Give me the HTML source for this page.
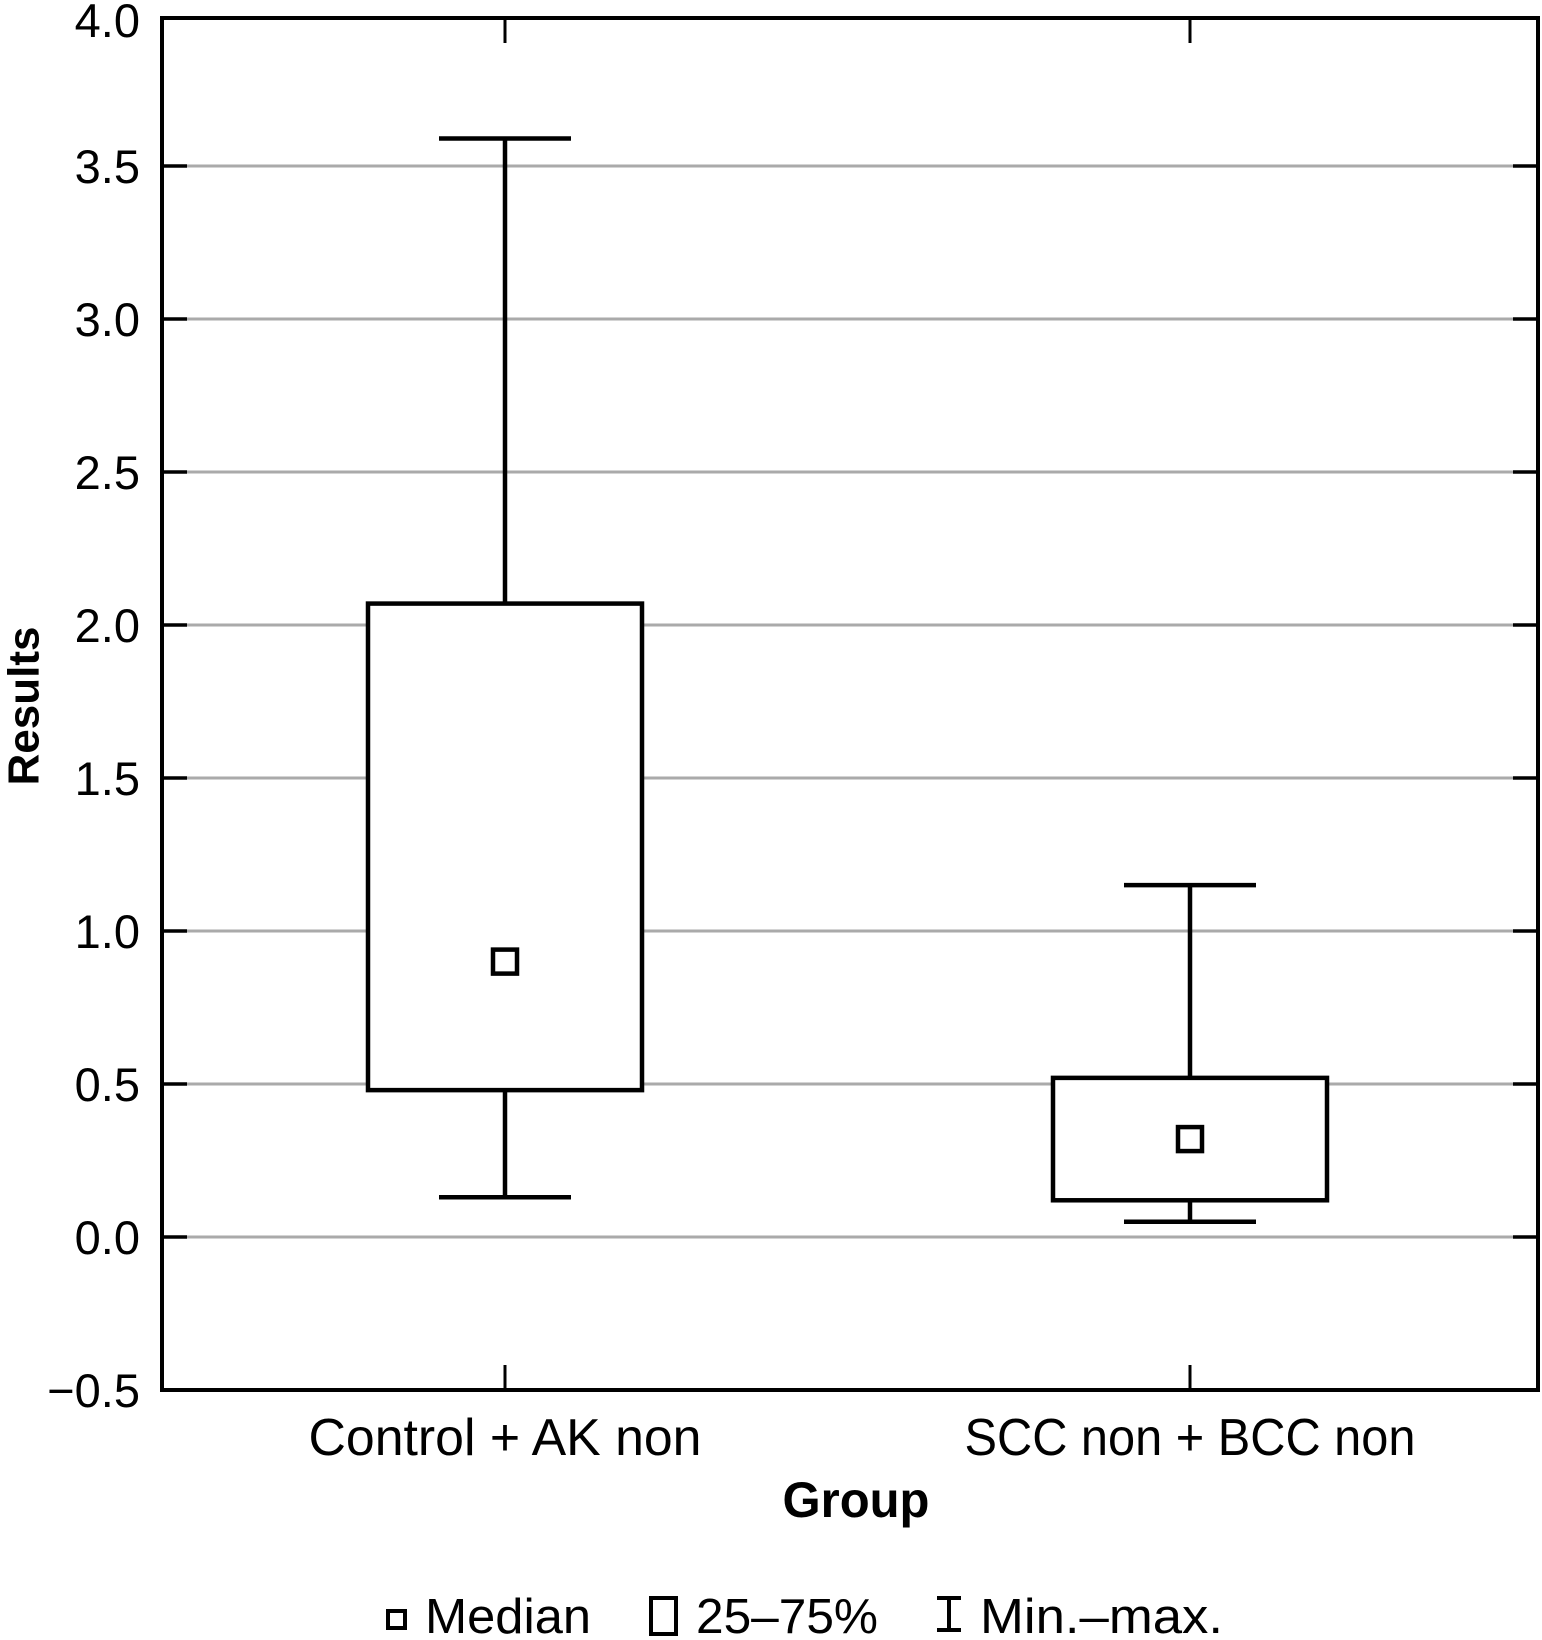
<!DOCTYPE html>
<html><head><meta charset="utf-8"><style>
html,body{margin:0;padding:0;background:#fff;}
svg{display:block;}
text{font-family:"Liberation Sans",sans-serif;fill:#000;}
</style></head><body>
<svg id="chart" width="1542" height="1640" viewBox="0 0 1542 1640">
<g id="grid"></g>
<g id="marks"></g>
<g id="axes"></g>
<text x="24" y="706" transform="rotate(-90 24 706)" text-anchor="middle" dominant-baseline="central" font-size="44" font-weight="bold">Results</text>
<text x="856" y="1517" text-anchor="middle" font-size="50" font-weight="bold" textLength="147" lengthAdjust="spacingAndGlyphs">Group</text>
<g>
<rect x="388" y="1611" width="17" height="17" fill="none" stroke="#000" stroke-width="4"/>
<text x="425" y="1633" font-size="49" textLength="166" lengthAdjust="spacingAndGlyphs">Median</text>
<rect x="651" y="1598" width="25" height="36" fill="none" stroke="#000" stroke-width="4"/>
<text x="696" y="1633" font-size="49" textLength="182" lengthAdjust="spacingAndGlyphs">25–75%</text>
<path d="M937 1598 H961 M949 1598 V1630 M937 1630 H961" stroke="#000" stroke-width="4" fill="none"/>
<text x="980" y="1633" font-size="49" textLength="243" lengthAdjust="spacingAndGlyphs">Min.–max.</text>
</g>
</svg>
<script>
const categories = ["Control + AK non", "SCC non + BCC non"];
const mins = [0.13, 0.05];
const q1s = [0.48, 0.12];
const medians = [0.90, 0.32];
const q3s = [2.07, 0.52];
const maxs = [3.59, 1.15];
const yTicks = [-0.5, 0.0, 0.5, 1.0, 1.5, 2.0, 2.5, 3.0, 3.5, 4.0];
const yTickLabels = ["\u22120.5", "0.0", "0.5", "1.0", "1.5", "2.0", "2.5", "3.0", "3.5", "4.0"];
const catLabelWidths = [393, 451];

const NS = "http://www.w3.org/2000/svg";
const L = 162, R = 1538;
const yScale = v => 1237 - v * 306;
const xScale = i => 505 + i * 685;
const T = 18, B = yScale(-0.5);
function mk(tag, attrs, parent) {
  const e = document.createElementNS(NS, tag);
  for (const k in attrs) e.setAttribute(k, attrs[k]);
  parent.appendChild(e);
  return e;
}
const grid = document.getElementById('grid');
const marks = document.getElementById('marks');
const axes = document.getElementById('axes');

yTicks.forEach((v, i) => {
  const y = yScale(v);
  if (v > -0.5 && v < 4.0) {
    const g = mk('line', {x1: L, x2: R, y1: y, y2: y, stroke: '#aaa', 'stroke-width': 3}, grid);
    
    
    const t1 = mk('line', {x1: L, x2: L + 25, y1: y, y2: y, stroke: '#000', 'stroke-width': 3.5}, axes);
    
    
    const t2 = mk('line', {x1: R - 25, x2: R, y1: y, y2: y, stroke: '#000', 'stroke-width': 3.5}, axes);
    
    
  }
  const ly = v === 4.0 ? y + 24 : y + 17;
  const lab = mk('text', {x: 140, y: ly, 'text-anchor': 'end', 'font-size': 47}, axes);
  lab.textContent = yTickLabels[i];
  
  
});

const frame = mk('rect', {x: L, y: T, width: R - L, height: B - T, fill: 'none', stroke: '#000', 'stroke-width': 4}, axes);



categories.forEach((c, i) => {
  const x = xScale(i);
  const tt = mk('line', {x1: x, x2: x, y1: T, y2: T + 25, stroke: '#000', 'stroke-width': 3}, axes);
  
  
  const tb = mk('line', {x1: x, x2: x, y1: B - 25, y2: B, stroke: '#000', 'stroke-width': 3}, axes);
  
  
  const lab = mk('text', {x: x, y: 1455, 'text-anchor': 'middle', 'font-size': 52, textLength: catLabelWidths[i], lengthAdjust: 'spacingAndGlyphs'}, axes);
  lab.textContent = c;
  
  

  const sw = 4.5;
  const wu = mk('line', {x1: x, x2: x, y1: yScale(maxs[i]), y2: yScale(q3s[i]), stroke: '#000', 'stroke-width': sw}, marks);
  
  
  const wl = mk('line', {x1: x, x2: x, y1: yScale(q1s[i]), y2: yScale(mins[i]), stroke: '#000', 'stroke-width': sw}, marks);
  
  
  const cu = mk('line', {x1: x - 66, x2: x + 66, y1: yScale(maxs[i]), y2: yScale(maxs[i]), stroke: '#000', 'stroke-width': sw}, marks);
  
  
  const cl = mk('line', {x1: x - 66, x2: x + 66, y1: yScale(mins[i]), y2: yScale(mins[i]), stroke: '#000', 'stroke-width': sw}, marks);
  
  
  const box = mk('rect', {x: x - 137, y: yScale(q3s[i]), width: 274, height: yScale(q1s[i]) - yScale(q3s[i]), fill: '#fff', stroke: '#000', 'stroke-width': sw}, marks);
  
  
  const med = mk('rect', {x: x - 12, y: yScale(medians[i]) - 12, width: 24, height: 24, fill: '#fff', stroke: '#000', 'stroke-width': 4.5}, marks);
  
  
});
</script>
</body></html>
